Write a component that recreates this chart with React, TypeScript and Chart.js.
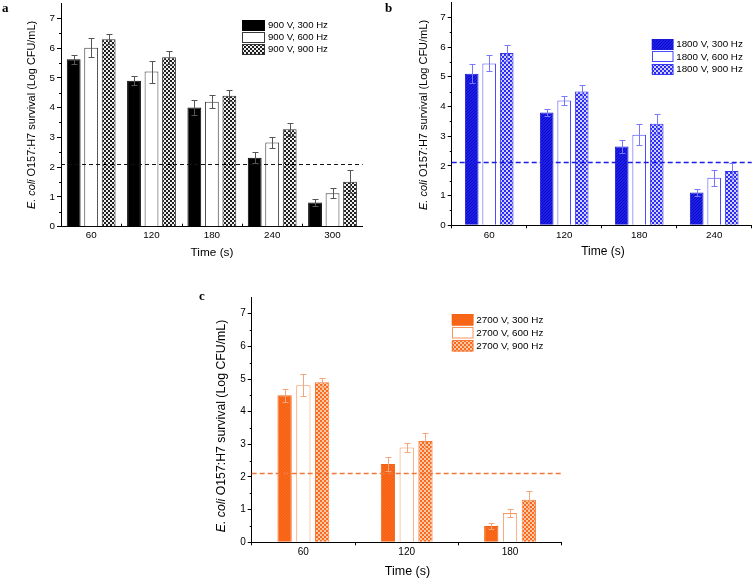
import React, { useEffect, useRef } from 'react';
import { Chart, registerables } from 'chart.js';

Chart.register(...registerables);

const SANS = '"Liberation Sans", Arial, Helvetica, sans-serif';
const SERIF = '"Liberation Serif", "Times New Roman", serif';

// ---------- data ----------
// Panel a (900 V)
const timesA = ['60', '120', '180', '240', '300'];
const labelsA = ['900 V, 300 Hz', '900 V, 600 Hz', '900 V, 900 Hz'];
const a300 = [5.62, 4.9, 4.0, 2.32, 0.81];
const a300Err = [0.15, 0.15, 0.26, 0.18, 0.11];
const a600 = [6.01, 5.21, 4.2, 2.83, 1.12];
const a600Err = [0.32, 0.37, 0.22, 0.17, 0.17];
const a900 = [6.3, 5.69, 4.4, 3.27, 1.51];
const a900Err = [0.16, 0.22, 0.19, 0.22, 0.39];

// Panel b (1800 V)
const timesB = ['60', '120', '180', '240'];
const labelsB = ['1800 V, 300 Hz', '1800 V, 600 Hz', '1800 V, 900 Hz'];
const b300 = [5.1, 3.8, 2.65, 1.1];
const b300Err = [0.32, 0.12, 0.23, 0.13];
const b600 = [5.45, 4.2, 3.05, 1.6];
const b600Err = [0.27, 0.15, 0.35, 0.27];
const b900 = [5.8, 4.5, 3.42, 1.83];
const b900Err = [0.28, 0.23, 0.33, 0.27];

// Panel c (2700 V)
const timesC = ['60', '120', '180'];
const labelsC = ['2700 V, 300 Hz', '2700 V, 600 Hz', '2700 V, 900 Hz'];
const c300 = [4.5, 2.4, 0.5];
const c300Err = [0.21, 0.21, 0.1];
const c600 = [4.81, 2.9, 0.9];
const c600Err = [0.33, 0.13, 0.12];
const c900 = [4.9, 3.1, 1.3];
const c900Err = [0.14, 0.24, 0.27];

const detectionLimit = 2.12;
const yMin = 0;
const yMax = 7.5;
const yStep = 1;
const yTitleItalic = 'E. coli';
const yTitleRest = ' O157:H7 survival (Log CFU/mL)';
const xTitle = 'Time (s)';

// ---------- patterns ----------
function checker(c1: string, c2: string, size = 2): CanvasPattern | string {
  const cv = document.createElement('canvas');
  cv.width = size * 2;
  cv.height = size * 2;
  const g = cv.getContext('2d');
  if (!g) return c1;
  g.fillStyle = c1;
  g.fillRect(0, 0, size * 2, size * 2);
  g.fillStyle = c2;
  g.fillRect(0, 0, size, size);
  g.fillRect(size, size, size, size);
  return g.createPattern(cv, 'repeat') || c1;
}

function hatch(base: string, line: string): CanvasPattern | string {
  const cv = document.createElement('canvas');
  cv.width = 3;
  cv.height = 3;
  const g = cv.getContext('2d');
  if (!g) return base;
  g.fillStyle = base;
  g.fillRect(0, 0, 3, 3);
  g.fillStyle = line;
  for (let i = 0; i < 3; i++) g.fillRect(i, 2 - i, 1, 1);
  return g.createPattern(cv, 'repeat') || base;
}

// ---------- panel config ----------
type Series = { label: string; data: number[]; err: number[]; fill: () => any; border: string };
type Panel = {
  letter: string;
  pos: { left: number; top: number; width: number; height: number };
  area: { left: number; right: number; top: number; bottom: number };
  categories: string[];
  series: Series[];
  catPct: number;
  barPct: number;
  errColor: string;
  dashColor: string;
  dashWidth: number;
  dash: number[];
  innerXTicks: boolean;
  xTickLen: number;
  xTickPad: number;
  tickFont: number;
  yTitle: { x: number; y: number; size: number };
  xTitle: { x: number; y: number; size: number };
  letterPos: { x: number; y: number };
  legend: { x: number; y0: number; dy: number; w: number; h: number; font: number };
};

const panels: Panel[] = [
  {
    letter: 'a',
    pos: { left: 0, top: 0, width: 380, height: 280 },
    area: { left: 61, right: 362.7, top: 3.4, bottom: 226.7 },
    categories: timesA,
    series: [
      { label: labelsA[0], data: a300, err: a300Err, fill: () => '#000000', border: '#000000' },
      { label: labelsA[1], data: a600, err: a600Err, fill: () => '#ffffff', border: '#3a3a3a' },
      { label: labelsA[2], data: a900, err: a900Err, fill: () => checker('#1e1e1e', '#eeeeee'), border: '#333333' },
    ],
    catPct: 0.87,
    barPct: 0.79,
    errColor: '#555555',
    dashColor: '#111111',
    dashWidth: 1,
    dash: [4, 3],
    innerXTicks: true,
    xTickLen: 0,
    xTickPad: 3,
    tickFont: 9.8,
    yTitle: { x: 32, y: 115, size: 10.9 },
    xTitle: { x: 212, y: 253, size: 11.8 },
    letterPos: { x: 2, y: 12 },
    legend: { x: 242, y0: 25, dy: 12, w: 23, h: 11, font: 9.6 },
  },
  {
    letter: 'b',
    pos: { left: 380, top: 0, width: 376, height: 280 },
    area: { left: 71.7, right: 371.7, top: 2.5, bottom: 225.3 },
    categories: timesB,
    series: [
      { label: labelsB[0], data: b300, err: b300Err, fill: () => hatch('#1e1ef0', '#0c0cb4'), border: '#1a1ad4' },
      { label: labelsB[1], data: b600, err: b600Err, fill: () => '#ffffff', border: '#4848ff' },
      { label: labelsB[2], data: b900, err: b900Err, fill: () => checker('#2c2cf2', '#cfcfff'), border: '#3535ee' },
    ],
    catPct: 0.7,
    barPct: 0.78,
    errColor: '#7878ff',
    dashColor: '#1c1ce6',
    dashWidth: 1.6,
    dash: [5, 3],
    innerXTicks: false,
    xTickLen: 3,
    xTickPad: 1,
    tickFont: 9.8,
    yTitle: { x: 44, y: 115, size: 11 },
    xTitle: { x: 223, y: 251.7, size: 12 },
    letterPos: { x: 5, y: 12 },
    legend: { x: 271.7, y0: 44, dy: 12.5, w: 21.5, h: 11, font: 9.8 },
  },
  {
    letter: 'c',
    pos: { left: 190, top: 280, width: 390, height: 301 },
    area: { left: 61.7, right: 371.7, top: 17.4, bottom: 262.3 },
    categories: timesC,
    series: [
      { label: labelsC[0], data: c300, err: c300Err, fill: () => hatch('#fb6a1c', '#f25e10'), border: '#f26414' },
      { label: labelsC[1], data: c600, err: c600Err, fill: () => '#ffffff', border: '#f7955e' },
      { label: labelsC[2], data: c900, err: c900Err, fill: () => checker('#f86a20', '#ffc8a4'), border: '#f47a3a' },
    ],
    catPct: 0.545,
    barPct: 0.76,
    errColor: '#f6a47a',
    dashColor: '#f0773a',
    dashWidth: 1.3,
    dash: [5, 3],
    innerXTicks: false,
    xTickLen: 3,
    xTickPad: 1,
    tickFont: 10,
    yTitle: { x: 31.7, y: 146, size: 12.3 },
    xTitle: { x: 217.5, y: 291.7, size: 12.5 },
    letterPos: { x: 9, y: 20 },
    legend: { x: 261.7, y0: 40, dy: 12.7, w: 21.5, h: 11.5, font: 9.9 },
  },
];

function makeDecor(p: Panel) {
  return {
    id: 'decor_' + p.letter,
    afterDatasetsDraw(chart: any) {
      const { ctx, chartArea } = chart;
      const y = chart.scales.y;
      const x = chart.scales.x;
      // detection-limit dashed line
      ctx.save();
      ctx.strokeStyle = p.dashColor;
      ctx.lineWidth = p.dashWidth;
      ctx.setLineDash(p.dash);
      const yl = Math.round(y.getPixelForValue(detectionLimit)) + 0.5;
      ctx.beginPath();
      ctx.moveTo(chartArea.left, yl);
      ctx.lineTo(chartArea.right, yl);
      ctx.stroke();
      ctx.restore();
      // error bars
      ctx.save();
      ctx.strokeStyle = p.errColor;
      ctx.lineWidth = 1;
      chart.data.datasets.forEach((ds: any, di: number) => {
        const meta = chart.getDatasetMeta(di);
        meta.data.forEach((el: any, i: number) => {
          const v = ds.data[i];
          const e = ds.errs[i];
          const px = Math.round(el.x) + 0.5;
          const t = Math.round(y.getPixelForValue(v + e)) + 0.5;
          const b = Math.round(y.getPixelForValue(v - e)) + 0.5;
          ctx.beginPath();
          ctx.moveTo(px, t);
          ctx.lineTo(px, b);
          ctx.moveTo(px - 3, t);
          ctx.lineTo(px + 3, t);
          ctx.moveTo(px - 3, b);
          ctx.lineTo(px + 3, b);
          ctx.stroke();
        });
      });
      ctx.restore();
      // minor y ticks and inner x ticks
      ctx.save();
      ctx.strokeStyle = '#000';
      ctx.lineWidth = 1;
      ctx.beginPath();
      for (let v = yMin + yStep / 2; v < yMax; v += yStep) {
        const py = Math.round(y.getPixelForValue(v)) + 0.5;
        ctx.moveTo(chartArea.left - 2, py);
        ctx.lineTo(chartArea.left, py);
      }
      if (p.innerXTicks) {
        for (let i = 0; i < p.categories.length - 1; i++) {
          const px = Math.round(x.getPixelForValue(i + 0.5)) + 0.5;
          ctx.moveTo(px, chartArea.bottom);
          ctx.lineTo(px, chartArea.bottom - 3);
        }
      }
      ctx.stroke();
      ctx.restore();
    },
    afterDraw(chart: any) {
      const { ctx } = chart;
      ctx.save();
      ctx.fillStyle = '#000';
      ctx.translate(p.yTitle.x, p.yTitle.y);
      ctx.rotate(-Math.PI / 2);
      const fi = `italic ${p.yTitle.size}px ${SANS}`;
      const fn = `${p.yTitle.size}px ${SANS}`;
      ctx.font = fi;
      const w1 = ctx.measureText(yTitleItalic).width;
      ctx.font = fn;
      const w2 = ctx.measureText(yTitleRest).width;
      const s = -(w1 + w2) / 2;
      ctx.textBaseline = 'middle';
      ctx.textAlign = 'left';
      ctx.font = fi;
      ctx.fillText(yTitleItalic, s, 0);
      ctx.font = fn;
      ctx.fillText(yTitleRest, s + w1, 0);
      ctx.restore();

      ctx.save();
      ctx.fillStyle = '#000';
      ctx.textAlign = 'center';
      ctx.textBaseline = 'middle';
      ctx.font = `${p.xTitle.size}px ${SANS}`;
      ctx.fillText(xTitle, p.xTitle.x, p.xTitle.y);
      ctx.textAlign = 'left';
      ctx.textBaseline = 'alphabetic';
      ctx.font = `bold 13px ${SERIF}`;
      ctx.fillText(p.letter, p.letterPos.x, p.letterPos.y);

      const L = p.legend;
      chart.data.datasets.forEach((ds: any, i: number) => {
        const cy = L.y0 + i * L.dy;
        const top = Math.round(cy - L.h / 2);
        ctx.fillStyle = ds.backgroundColor;
        ctx.fillRect(L.x, top, L.w, L.h);
        ctx.strokeStyle = ds.borderColor;
        ctx.lineWidth = 1;
        ctx.strokeRect(Math.round(L.x) + 0.5, top + 0.5, L.w - 1, L.h - 1);
        ctx.fillStyle = '#000';
        ctx.font = `${L.font}px ${SANS}`;
        ctx.textBaseline = 'middle';
        ctx.fillText(ds.label, L.x + L.w + 3, cy + 0.5);
      });
      ctx.restore();
    },
  };
}

function PanelChart({ p }: { p: Panel }) {
  const ref = useRef<HTMLCanvasElement | null>(null);
  useEffect(() => {
    const canvas = ref.current;
    if (!canvas) return;
    const { width, height } = p.pos;
    const chart = new Chart(canvas, {
      type: 'bar',
      data: {
        labels: p.categories,
        datasets: p.series.map((s) => ({
          label: s.label,
          data: s.data,
          errs: s.err,
          backgroundColor: s.fill(),
          borderColor: s.border,
          borderWidth: 1,
          categoryPercentage: p.catPct,
          barPercentage: p.barPct,
        })) as any,
      },
      options: {
        responsive: false,
        maintainAspectRatio: false,
        animation: false,
        devicePixelRatio: 1,
        layout: {
          padding: { left: 0, top: p.area.top, right: width - p.area.right, bottom: 0 },
        },
        plugins: {
          legend: { display: false },
          tooltip: { enabled: false },
          title: { display: false },
        },
        scales: {
          x: {
            type: 'category',
            offset: true,
            grid: {
              display: !p.innerXTicks,
              drawOnChartArea: false,
              offset: true,
              tickLength: p.xTickLen,
              color: '#000',
            },
            border: { display: true, color: '#000', width: 1 },
            ticks: {
              color: '#000',
              padding: p.xTickPad,
              font: { family: SANS, size: p.tickFont },
              maxRotation: 0,
              autoSkip: false,
            },
            afterFit: (sc: any) => {
              sc.height = height - p.area.bottom;
              sc.paddingLeft = 0;
              sc.paddingRight = 0;
            },
          },
          y: {
            type: 'linear',
            min: yMin,
            max: yMax,
            grid: { drawOnChartArea: false, tickLength: 4, color: '#000' },
            border: { display: true, color: '#000', width: 1 },
            ticks: {
              stepSize: yStep,
              includeBounds: false,
              color: '#000',
              padding: 2,
              font: { family: SANS, size: p.tickFont },
            },
            afterFit: (sc: any) => {
              sc.width = p.area.left;
              sc.paddingTop = 0;
              sc.paddingBottom = 0;
            },
          },
        },
      } as any,
      plugins: [makeDecor(p)],
    });
    return () => chart.destroy();
  }, [p]);
  return (
    <canvas
      ref={ref}
      width={p.pos.width}
      height={p.pos.height}
      style={{
        position: 'absolute',
        left: p.pos.left,
        top: p.pos.top,
        width: p.pos.width,
        height: p.pos.height,
      }}
    />
  );
}

export default function App() {
  return (
    <div
      style={{
        position: 'absolute',
        left: 0,
        top: 0,
        width: 756,
        height: 581,
        background: '#ffffff',
        overflow: 'hidden',
      }}
    >
      {panels.map((p) => (
        <PanelChart key={p.letter} p={p} />
      ))}
    </div>
  );
}
